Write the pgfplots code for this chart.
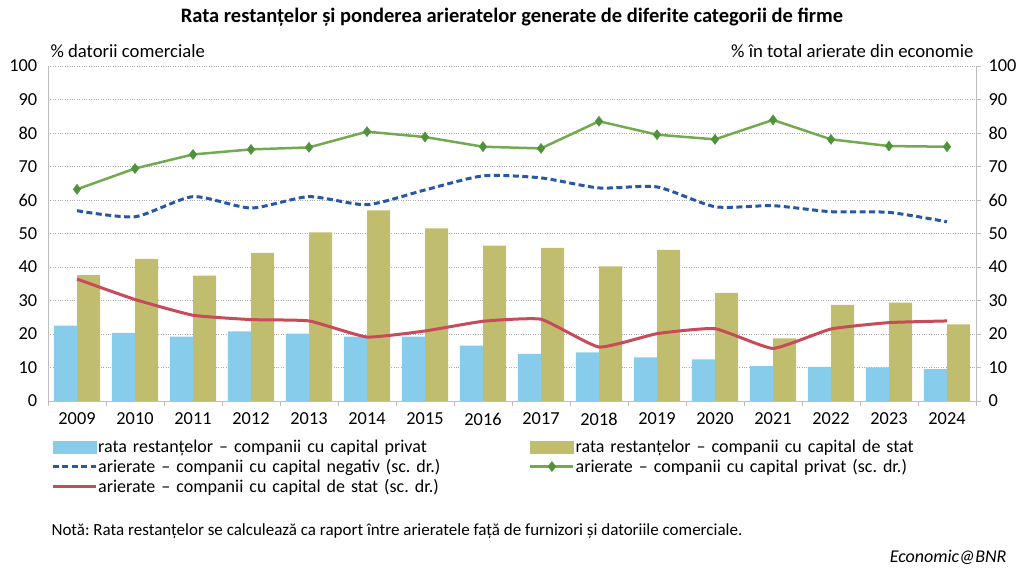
\documentclass[border=0pt]{standalone}
\usepackage{pgfplots}
\pgfplotsset{compat=1.18}
\usepackage{fontspec}
\setmainfont{Carlito}
\frenchspacing
\definecolor{cblue}{RGB}{135,204,234}
\definecolor{colive}{RGB}{192,190,110}
\definecolor{cdash}{RGB}{40,88,165}
\definecolor{cgreen}{RGB}{115,170,80}
\definecolor{cgreenm}{RGB}{80,145,60}
\definecolor{cred}{RGB}{200,75,90}
\definecolor{caxis}{RGB}{190,190,190}
\definecolor{cgrid}{RGB}{170,170,170}

\pgfplotsset{
  linelegend/.style={legend image code/.code={\draw[##1] (0pt,0pt) -- (43pt,0pt);}},
  marklegend/.style={legend image code/.code={\draw[##1,mark=none] (0pt,0pt) -- (43pt,0pt); \draw[##1] plot coordinates {(21.5pt,0pt)};}},
  blueleg/.style={legend image code/.code={\fill[cblue] (0pt,-6pt) rectangle (43pt,6pt);}},
  oliveleg/.style={legend image code/.code={\fill[colive] (0pt,-6pt) rectangle (43pt,6pt);}},
}

\pgfplotstableread{
x priv stat neg arpriv arstat
0 22.5 37.6 56.8 63.2 36.4
1 20.3 42.4 55.0 69.4 30.3
2 19.2 37.4 61.0 73.6 25.6
3 20.8 44.2 57.6 75.1 24.3
4 20.1 50.3 61.0 75.7 23.9
5 19.2 56.9 58.6 80.4 19.1
6 19.2 51.5 63.0 78.8 20.9
7 16.5 46.4 67.2 75.9 23.8
8 14.1 45.7 66.6 75.4 24.4
9 14.5 40.2 63.6 83.5 16.1
10 13.0 45.1 63.9 79.5 20.1
11 12.4 32.3 58.0 78.1 21.6
12 10.4 18.7 58.3 83.9 15.7
13 10.2 28.7 56.5 78.1 21.5
14 10.0 29.4 56.3 76.1 23.4
15 9.5 22.9 53.5 75.9 23.9
}\data

\begin{document}
\begin{tikzpicture}
\path[use as bounding box] (0pt,0pt) rectangle (1024pt,578pt);
\node[font=\fontsize{20.5}{24}\selectfont\bfseries] at (512pt,561pt) {Rata restanțelor și ponderea arieratelor generate de diferite categorii de firme};
\node[font=\fontsize{18.7}{22}\selectfont, anchor=base west] at (47pt,520pt) {\% datorii comerciale};
\node[font=\fontsize{18.7}{22}\selectfont, anchor=base east] at (977pt,520pt) {\% în total arierate din economie};
\node[font=\fontsize{17}{20}\selectfont, anchor=base west] at (48pt,43pt) {Notă: Rata restanțelor se calculează ca raport între arieratele față de furnizori și datoriile comerciale.};
\node[font=\fontsize{18}{22}\selectfont\itshape, anchor=base east] at (1010pt,16pt) {Economic@BNR};

\begin{axis}[
  at={(48pt,177pt)}, anchor=south west,
  scale only axis, width=928pt, height=335pt,
  xmin=-0.5, xmax=15.5, ymin=0, ymax=100,
  axis x line*=bottom, axis y line*=left,
  axis line style={draw=caxis, line width=0.8pt, -},
  xtick={0,...,15},
  xticklabels={2009,2010,2011,2012,2013,2014,2015,2016,2017,2018,2019,2020,2021,2022,2023,2024},
  minor xtick={-0.5,0.5,...,15.5},
  major x tick style={draw=none},
  minor tick length=5pt,
  minor x tick style={draw=caxis, line width=0.8pt},
  tick align=outside,
  ytick={0,10,...,100},
  y tick style={draw=none},
  ymajorgrids, grid style={draw=cgrid, dotted, line width=0.7pt},
  ticklabel style={font=\fontsize{18.3}{21}\selectfont},
  /pgf/number format/assume math mode=true,
  yticklabel style={xshift=-3pt},
  xticklabel style={yshift=-4pt},
  clip=false,
]
\addplot[ybar, bar width=0.4, bar shift=-0.2, fill=cblue, draw=none] table[x=x,y=priv]{\data};
\addplot[ybar, bar width=0.4, bar shift=0.2, fill=colive, draw=none] table[x=x,y=stat]{\data};
\end{axis}

\begin{axis}[
  at={(48pt,177pt)}, anchor=south west,
  scale only axis, width=928pt, height=335pt,
  xmin=-0.5, xmax=15.5, ymin=0, ymax=100,
  axis y line*=right, axis x line=none,
  axis line style={draw=caxis, line width=0.8pt, -},
  ytick={0,10,...,100},
  tick align=outside,
  major tick length=5pt,
  y tick style={draw=caxis, line width=0.8pt},
  ticklabel style={font=\fontsize{18.3}{21}\selectfont},
  /pgf/number format/assume math mode=true,
  yticklabel style={xshift=4pt},
  clip=false,
  legend columns=2,
  legend cell align=left,
  legend style={draw=none, fill=none, at={(0,-0.106)}, anchor=north west,
    font=\fontsize{18}{21}\selectfont, row sep=3.5pt,
    nodes={inner sep=1pt, text width=430pt, align=left}},
]
\addlegendimage{blueleg}
\addlegendentry{rata restanțelor – companii cu capital privat}
\addlegendimage{oliveleg}
\addlegendentry{rata restanțelor – companii cu capital de stat}
\addplot[cdash, line width=3pt, dash pattern=on 6pt off 3.5pt, smooth, tension=0.4, linelegend] table[x=x,y=neg]{\data};
\addlegendentry{arierate – companii cu capital negativ (sc. dr.)}
\addplot[cgreen, line width=2.5pt, mark=diamond*, mark size=5pt, mark options={fill=cgreenm, draw=cgreenm, line width=0.5pt}, marklegend] table[x=x,y=arpriv]{\data};
\addlegendentry{arierate – companii cu capital privat (sc. dr.)}
\addplot[cred, line width=3pt, smooth, tension=0.25, linelegend] table[x=x,y=arstat]{\data};
\addlegendentry{arierate – companii cu capital de stat (sc. dr.)}
\end{axis}
\end{tikzpicture}
\end{document}
